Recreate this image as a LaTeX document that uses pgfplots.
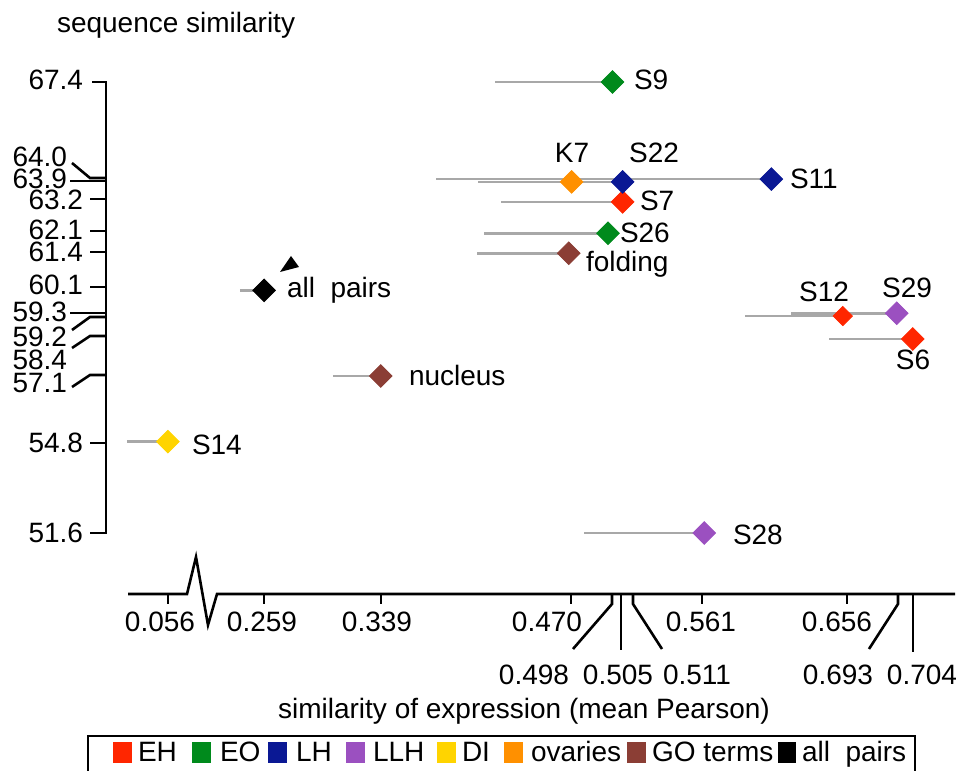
\documentclass[border=0pt]{standalone}
\usepackage{pgfplots}
\pgfplotsset{compat=1.18}
\usepackage{fontspec}
\setmainfont{Liberation Sans}

\definecolor{cEH}{RGB}{255,38,0}
\definecolor{cEO}{RGB}{0,138,28}
\definecolor{cLH}{RGB}{10,24,148}
\definecolor{cLLH}{RGB}{155,80,192}
\definecolor{cDI}{RGB}{255,212,0}
\definecolor{cOV}{RGB}{255,144,0}
\definecolor{cGO}{RGB}{139,62,53}
\definecolor{rangegray}{RGB}{168,168,168}

\begin{document}
\begin{tikzpicture}[every node/.style={font=\fontsize{14}{16}\selectfont, inner sep=0pt, outer sep=0pt}]
\begin{axis}[
  scale only axis, width=480pt, height=385.5pt,
  xmin=0.0779, xmax=0.7364, ymin=43.262, ymax=70.273,
  hide axis, clip=false,
  % broken x axis: values below 0.07 are moved right, next to the break
  x coord trafo/.code={\pgfmathparse{#1<0.07 ? #1+0.1371 : #1}},
  range/.style={rangegray, line width=1.35pt, forget plot},
  dia/.style={only marks, mark=square*, mark size=4pt, mark options={rotate=45}},
]
\path (rel axis cs:0,0) rectangle (rel axis cs:1,1);
\coordinate (O) at (rel axis cs:0,1);

% ranges of mean Pearson correlation (grey bars)
\addplot[range] coordinates {(0.4175,67.4) (0.498,67.4)}; % S9
\addplot[range] coordinates {(0.3770,64.0) (0.607,64.0)}; % S11
\addplot[range] coordinates {(0.4058,63.9) (0.505,63.9)}; % S22
\addplot[range] coordinates {(0.4216,63.2) (0.505,63.2)}; % S7
\addplot[range] coordinates {(0.4099,62.1) (0.495,62.1)}; % S26
\addplot[range] coordinates {(0.4051,61.4) (0.468,61.4)}; % folding
\addplot[range] coordinates {(0.2425,60.1) (0.259,60.1)}; % all pairs
\addplot[range] coordinates {(0.3063,57.1) (0.339,57.1)}; % nucleus
\addplot[range] coordinates {(0.0279,54.8) (0.056,54.8)}; % S14
\addplot[range] coordinates {(0.4785,51.6) (0.561,51.6)}; % S28
\addplot[range] coordinates {(0.5890,59.2) (0.656,59.2)}; % S12
\addplot[range] coordinates {(0.6205,59.3) (0.693,59.3)}; % S29
\addplot[range] coordinates {(0.6466,58.4) (0.704,58.4)}; % S6

% EH
\addplot[dia, color=cEH] coordinates {(0.505,63.2) (0.704,58.4)};
\addplot[dia, color=cEH, mark size=3.4pt] coordinates {(0.656,59.2)};
% EO
\addplot[dia, color=cEO] coordinates {(0.498,67.4) (0.495,62.1)};
% LLH
\addplot[dia, color=cLLH] coordinates {(0.693,59.3) (0.561,51.6)};
% DI
\addplot[dia, color=cDI] coordinates {(0.056,54.8)};
% ovaries
\addplot[dia, color=cOV] coordinates {(0.470,63.9)};
% GO terms
\addplot[dia, color=cGO] coordinates {(0.468,61.4) (0.339,57.1)};
% LH
\addplot[dia, color=cLH] coordinates {(0.505,63.9) (0.607,64.0)};
% all pairs
\addplot[dia, color=black] coordinates {(0.259,60.1)};
\end{axis}

\begin{scope}[shift={(O)}, x=0.5pt, y=-0.5pt, line width=1.3pt, line cap=butt]
  % y axis with ticks and leader lines
  \draw (92,82) -- (106,82) -- (106,533) -- (90,533);
  \draw (72,163) -- (90,178) -- (106,178);
  \draw (70,181) -- (106,181);
  \draw (90,199) -- (106,199);
  \draw (90,231) -- (106,231);
  \draw (90,252) -- (106,252);
  \draw (90,287) -- (106,287);
  \draw (70,313) -- (106,313);
  \draw (72,330) -- (90,317) -- (106,317);
  \draw (72,348) -- (90,336) -- (106,336);
  \draw (72,387) -- (90,375) -- (106,375);
  \draw (90,443) -- (106,443);
  \node[anchor=base east] at (83,90) {67.4};
  \node[anchor=base east] at (67,167) {64.0};
  \node[anchor=base east] at (67,189) {63.9};
  \node[anchor=base east] at (83,210) {63.2};
  \node[anchor=base east] at (83,240) {62.1};
  \node[anchor=base east] at (83,262) {61.4};
  \node[anchor=base east] at (83,295) {60.1};
  \node[anchor=base east] at (67,322) {59.3};
  \node[anchor=base east] at (67,347) {59.2};
  \node[anchor=base east] at (67,370) {58.4};
  \node[anchor=base east] at (67,393) {57.1};
  \node[anchor=base east] at (83,453) {54.8};
  \node[anchor=base east] at (83,543) {51.6};
  \node[anchor=base west] at (57,33) {sequence similarity};

  % x axis with break
  \draw[line join=miter] (128,594) -- (187,594) -- (196,557) -- (208,625) -- (217,594) -- (955,594);
  \foreach \t in {168,264,381,571,702,847} \draw (\t,594) -- (\t,604);
  \draw (612,594) -- (612,604) -- (573,649);
  \draw (621,594) -- (621,650);
  \draw (633,594) -- (633,604) -- (662,649);
  \draw (898,594) -- (898,604) -- (869,649);
  \draw (913,594) -- (913,652);
  \node[anchor=base] at (160,632) {0.056};
  \node[anchor=base] at (262,632) {0.259};
  \node[anchor=base] at (377,632) {0.339};
  \node[anchor=base] at (547,632) {0.470};
  \node[anchor=base] at (701,632) {0.561};
  \node[anchor=base] at (837,632) {0.656};
  \node[anchor=base] at (534,685) {0.498};
  \node[anchor=base] at (618,685) {0.505};
  \node[anchor=base] at (697,685) {0.511};
  \node[anchor=base] at (838,685) {0.693};
  \node[anchor=base] at (922,685) {0.704};
  \node[anchor=base] at (524,719) {similarity of expression (mean Pearson)};

  % point labels
  \node[anchor=base west] at (634,90) {S9};
  \node[anchor=base] at (572,163) {K7};
  \node[anchor=base] at (654,163) {S22};
  \node[anchor=base west] at (790,189) {S11};
  \node[anchor=base west] at (640,211) {S7};
  \node[anchor=base west] at (620,243) {S26};
  \node[anchor=base west] at (586,272) {folding};
  \node[anchor=base west] at (287,298) {all~~pairs};
  \node[anchor=base west] at (409,386) {nucleus};
  \node[anchor=base west] at (192,455) {S14};
  \node[anchor=base] at (824,302) {S12};
  \node[anchor=base] at (907,298) {S29};
  \node[anchor=base] at (913,370) {S6};
  \node[anchor=base west] at (733,545) {S28};
  \fill (291,256) -- (299,267) -- (280,272) -- cycle;

  % legend
  \draw[line width=1pt] (88,771) -- (88,736) -- (915,736) -- (915,771);
  \fill[cEH]  (113,742) rectangle (132,763); \node[anchor=base west] at (138,762) {EH};
  \fill[cEO]  (192,742) rectangle (211,763); \node[anchor=base west] at (220,762) {EO};
  \fill[cLH]  (268,742) rectangle (287,763); \node[anchor=base west] at (296,762) {LH};
  \fill[cLLH] (346,742) rectangle (365,763); \node[anchor=base west] at (373,762) {LLH};
  \fill[cDI]  (437,742) rectangle (456,763); \node[anchor=base west] at (462,762) {DI};
  \fill[cOV]  (504,742) rectangle (523,763); \node[anchor=base west] at (531,762) {ovaries};
  \fill[cGO]  (627,742) rectangle (646,763); \node[anchor=base west] at (652,762) {GO terms};
  \fill[black] (778,742) rectangle (796,763); \node[anchor=base west] at (802,762) {all~~pairs};
\end{scope}
\end{tikzpicture}
\end{document}
